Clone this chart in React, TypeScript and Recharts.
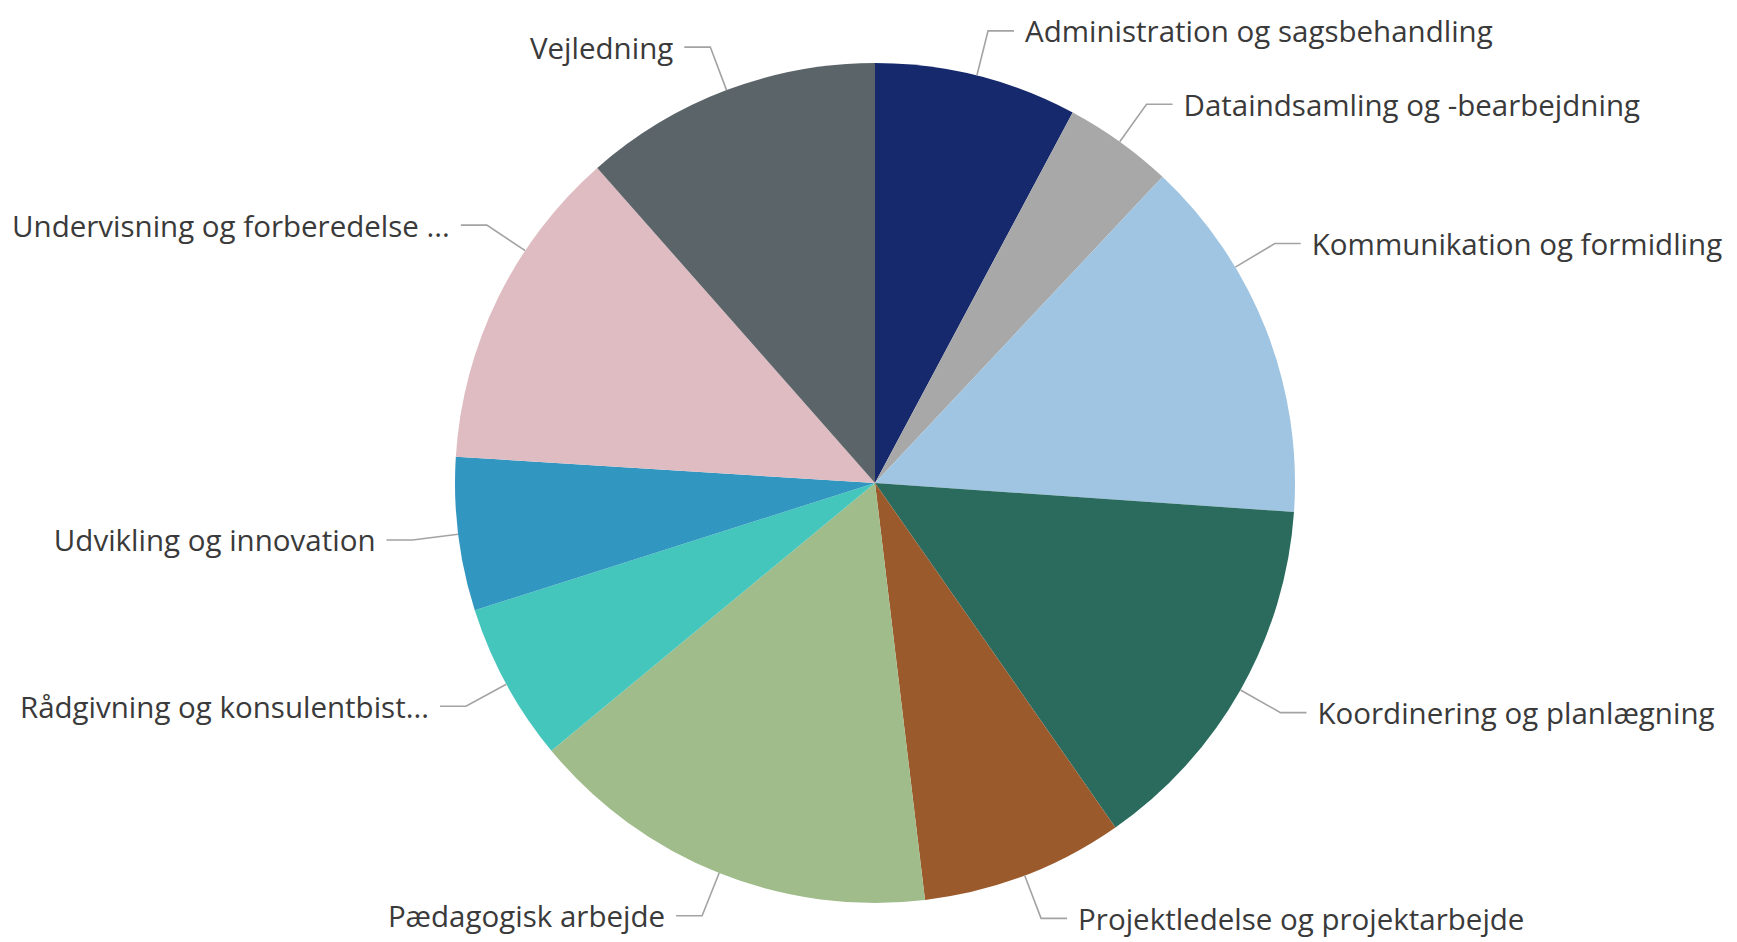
import React from "react";
import { PieChart, Pie, Cell } from "recharts";

const categories = [
  "Administration og sagsbehandling",
  "Dataindsamling og -bearbejdning",
  "Kommunikation og formidling",
  "Koordinering og planlægning",
  "Projektledelse og projektarbejde",
  "Pædagogisk arbejde",
  "Rådgivning og konsulentbist...",
  "Udvikling og innovation",
  "Undervisning og forberedelse ...",
  "Vejledning",
];

const values = [7.8, 4.2, 14.1, 14.2, 7.8, 15.9, 6.1, 5.9, 12.5, 11.5];

const colors = [
  "#15296c",
  "#a8a8a8",
  "#9fc5e2",
  "#2a6b5e",
  "#9a5a2c",
  "#9fbc8a",
  "#45c6bc",
  "#3196c0",
  "#dfbcc1",
  "#5b6569",
];

const data = categories.map((name, i) => ({ name, value: values[i] }));

const W = 1737;
const H = 942;
const FONT_SIZE = 29.5;
const FONT = `${FONT_SIZE}px 'Open Sans'`;

let ctx: CanvasRenderingContext2D | null = null;
function measure(text: string): number {
  if (!ctx) {
    const c = document.createElement("canvas");
    ctx = c.getContext("2d");
  }
  if (!ctx) return text.length * 14.5;
  ctx.font = FONT;
  return ctx.measureText(text).width;
}

function renderLabel(props: any) {
  const { cx, cy, midAngle, outerRadius, index } = props;
  const text = categories[index];
  const w = measure(text);
  let t = (((90 - midAngle) % 360) + 360) % 360;
  const right = t < 180;
  const ext = 46;
  const hor = 26;
  const gap = 11;
  const calc = (tt: number) => {
    const rad = (tt * Math.PI) / 180;
    const s = Math.sin(rad);
    const c = Math.cos(rad);
    const sx = cx + outerRadius * s;
    const sy = cy - outerRadius * c;
    const ex = cx + (outerRadius + ext) * s;
    const ey = cy - (outerRadius + ext) * c;
    const hx = right ? ex + hor : ex - hor;
    const tx = right ? hx + gap : hx - gap;
    return { sx, sy, ex, ey, hx, tx };
  };
  let p = calc(t);
  for (let i = 0; i < 400; i++) {
    const overflow = right ? p.tx + w > W - 14 : p.tx - w < 12;
    if (!overflow) break;
    if (right) t = t < 90 ? t - 0.5 : t + 0.5;
    else t = t > 270 ? t + 0.5 : t - 0.5;
    p = calc(t);
  }
  return (
    <g key={`lbl-${index}`}>
      <polyline
        points={`${p.sx},${p.sy} ${p.ex},${p.ey} ${p.hx},${p.ey}`}
        fill="none"
        stroke="#a3a3a3"
        strokeWidth={1.6}
      />
      <text
        x={p.tx}
        y={p.ey}
        textAnchor={right ? "start" : "end"}
        dominantBaseline="central"
        fill="#3a3a3a"
        fontSize={FONT_SIZE}
        fontFamily="'Open Sans', sans-serif"
      >
        {text}
      </text>
    </g>
  );
}

export default function App() {
  return (
    <div style={{ position: "absolute", left: 0, top: 0, width: W, height: H, background: "#ffffff" }}>
      <PieChart width={W} height={H}>
        <Pie
          data={data}
          dataKey="value"
          nameKey="name"
          cx={870}
          cy={478}
          outerRadius={420}
          startAngle={90}
          endAngle={-270}
          stroke="none"
          isAnimationActive={false}
          labelLine={false}
          label={renderLabel}
        >
          {data.map((d, i) => (
            <Cell key={d.name} fill={colors[i]} />
          ))}
        </Pie>
      </PieChart>
    </div>
  );
}
